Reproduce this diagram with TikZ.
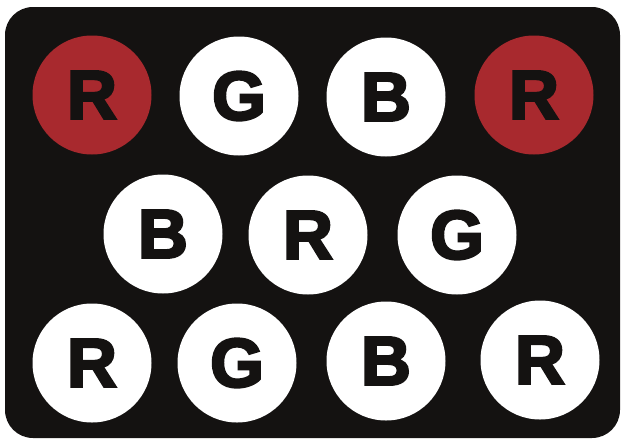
\documentclass[tikz,border=0pt]{standalone}
\usepackage{fontspec}
\newfontfamily\heavy{Liberation Sans Bold}[FakeBold=3.5]
\definecolor{bg}{HTML}{141211}
\definecolor{redc}{HTML}{A8292E}
\begin{document}
\begin{tikzpicture}[x=1pt,y=-1pt,
  disc/.style={circle,minimum size=119pt,inner sep=0pt,fill=white,text=bg,font=\heavy\fontsize{69}{69}\selectfont},
  reddisc/.style={disc,fill=redc}]
\useasboundingbox (0,0) rectangle (622,440);
\fill[bg,rounded corners=28pt] (5,7) rectangle (620,438);
\node[reddisc] (r1) at (92,95) {R};
\node[disc] (g1) at (239,96) {G};
\node[disc] (b1) at (386,97) {B};
\node[reddisc] (r2) at (534,95) {R};
\node[disc] (b2) at (163,234) {B};
\node[disc] (r3) at (308,235) {R};
\node[disc] (g2) at (457,235) {G};
\node[disc] (r4) at (92,363) {R};
\node[disc] (g3) at (237,363) {G};
\node[disc] (b3) at (386,361) {B};
\node[disc] (r5) at (540,360) {R};
\end{tikzpicture}
\end{document}
